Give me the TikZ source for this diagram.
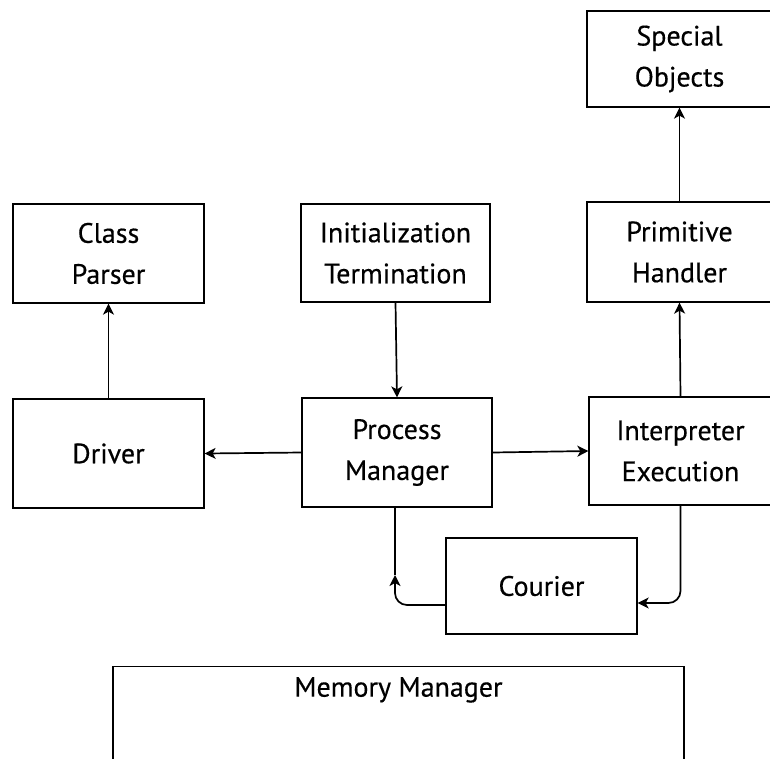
\documentclass[tikz,border=0pt]{standalone}
\usepackage{fontspec}
\newfontfamily\diagfont{PT Sans}[FakeBold=0.4]
\usetikzlibrary{arrows.meta}
\begin{document}
\begin{tikzpicture}[x=1pt,y=-1pt,
  blk/.style={draw=black, line width=1.3pt, rectangle, inner sep=0pt, align=center,
    font=\diagfont\fontsize{28}{41}\selectfont},
  conn/.style={line width=1.7pt, -{Stealth[length=11pt,width=11pt,inset=3pt]}},
  plain/.style={line width=1.7pt}]
\useasboundingbox (0,0) rectangle (770,758);
\clip (0,0) rectangle (770,758);
\node[blk, minimum width=185pt, minimum height=96pt] (SO) at (679.5,59) {Special\\Objects};
\node[blk, minimum width=185pt, minimum height=100pt] (PH) at (679.5,252) {Primitive\\Handler};
\node[blk, minimum width=191pt, minimum height=99pt] (CP) at (108.5,253.5) {Class\\Parser};
\node[blk, minimum width=189pt, minimum height=98pt] (IT) at (395.5,253) {Initialization\\Termination};
\node[blk, minimum width=191pt, minimum height=109pt] (DR) at (108.5,453.5) {Driver};
\node[blk, minimum width=190pt, minimum height=109pt] (PM) at (397,452.5) {Process\\Manager};
\node[blk, minimum width=183pt, minimum height=108pt] (IE) at (680.5,451) {Interpreter\\Execution};
\node[blk, minimum width=191pt, minimum height=96pt] (CO) at (541.5,586) {Courier};
\node[blk, anchor=north, minimum width=571pt, inner ysep=8pt, text height=22pt, text depth=120pt] (MM) at (398.5,666) {Memory Manager};
% connectors
\draw[conn] (DR.north) -- (CP.south);
\draw[conn] (IT.south) -- (PM.north);
\draw[conn] (PH.north) -- (SO.south);
\draw[conn] (IE.north) -- (PH.south);
\draw[conn] (PM.west) -- (DR.east);
\draw[conn] (PM.east) -- (IE.west);
\coordinate (cl) at ([xshift=-2pt]PM.south);
\coordinate (cla) at ([yshift=11pt]CO.west -| cl);
\draw[conn, rounded corners=12pt] ([yshift=-19pt]CO.west) -| (cla);
\draw[plain] (cla) -- (cl);
\draw[conn, rounded corners=12pt] (IE.south) |- ([yshift=-17pt]CO.east);
\end{tikzpicture}
\end{document}
